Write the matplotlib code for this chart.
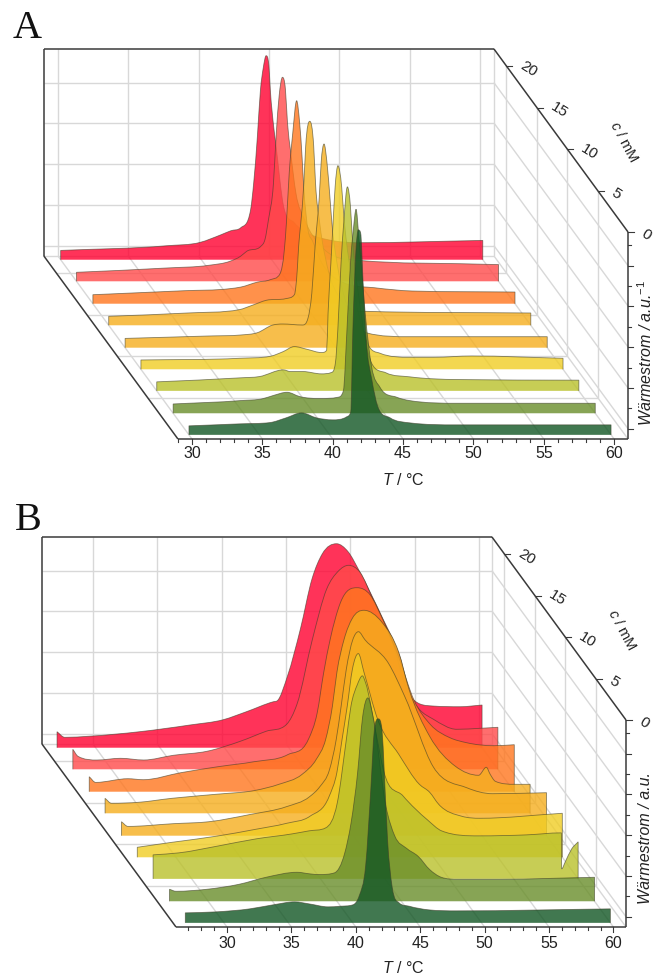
import matplotlib

matplotlib.use("Agg", force=True)

import matplotlib.pyplot as plt
import numpy as np
from matplotlib.patches import PathPatch
from matplotlib.path import Path

plt.rcParams["font.family"] = ["Liberation Sans", "DejaVu Sans"]
plt.rcParams["mathtext.fontset"] = "custom"
plt.rcParams["mathtext.rm"] = "Liberation Sans"
plt.rcParams["mathtext.it"] = "Liberation Sans:italic"

# concentration of each trace, front to back
conc = [0.5, 3.1, 5.8, 8.4, 11.0, 13.7, 16.3, 19.0, 21.6]
colors = ["#125624", "#698E2A", "#BAC12A", "#F0CD24", "#F5AE1E", "#F5AE1E", "#FF761E", "#FF4A4A", "#FF0030"]

# panel A, front to back
a_dark_t = [30, 33.6, 35.76, 36.9, 38, 39.07, 40.2, 41.2, 41.5, 41.65, 41.87, 42.03, 42.2, 42.4, 42.6, 43, 43.43, 44.3, 45.7, 49, 60]
a_dark_h = [9, 11, 12.3, 17, 22, 17, 15, 18, 23, 105, 185, 205, 202, 145, 95, 55, 28, 17, 12, 10, 10]
a_moss_t = [30, 34.8, 36.4, 37.1, 38.1, 39, 40.4, 41.7, 42.1, 42.35, 42.6, 42.8, 43, 43.2, 43.4, 43.65, 44.1, 44.7, 45.9, 46.8, 50.3, 60]
a_moss_h = [9.3, 12.7, 14.7, 17.7, 21, 16.7, 14.7, 16, 22.7, 82.7, 149.7, 182.7, 204, 176, 142, 100, 47, 26, 16, 12.7, 10, 10]
a_olive_t = [30, 35.9, 37.3, 39, 39.5, 40.4, 41.7, 42.4, 42.7, 42.87, 43.1, 43.3, 43.55, 43.77, 43.9, 44.4, 45.26, 46.3, 48, 51.4, 60]
a_olive_h = [9, 13, 14.3, 21, 19.3, 19.3, 17, 18.3, 28, 61, 128, 170, 204, 184, 154, 90, 28, 18, 14, 11.3, 10.7]
a_yellow_t = [30, 37, 39.2, 40.1, 40.9, 41.8, 42.84, 43.2, 43.3, 43.5, 43.65, 43.8, 44, 44.27, 44.43, 44.57, 45, 46.1, 47, 49.1, 50.8, 53.5, 60]
a_yellow_h = [9.3, 11, 13, 17.6, 22.7, 20, 16.7, 19, 56, 106, 145, 182, 203.6, 182, 152, 132, 90, 26, 16, 12, 12, 13.3, 11]
a_gold2_t = [30, 35.9, 38.2, 39.4, 40.5, 41.2, 42.6, 43, 43.27, 43.5, 43.6, 43.8, 43.93, 44.14, 44.35, 44.57, 44.76, 45, 45.6, 46.2, 47.2, 50.2, 60]
a_gold2_h = [9.3, 11.7, 12.7, 15, 22.7, 23.7, 22.7, 29.7, 54.7, 101, 118, 151, 184.7, 203.7, 184.7, 148, 114.7, 90, 50, 30, 14.7, 11, 11]
a_gold_t = [30, 35.6, 39.3, 40.2, 41.2, 42.6, 43.2, 43.4, 43.5, 43.65, 43.87, 44, 44.29, 44.57, 44.7, 45, 45.7, 46.3, 48.2, 60]
a_gold_h = [9, 12.3, 15.7, 20, 25, 26.7, 30.7, 55, 79, 102, 142, 179, 204, 179, 142, 102, 50, 30, 14, 12.3]
a_orange_t = [30, 36.5, 39.7, 40.5, 41.7, 42.6, 43.3, 43.6, 43.75, 43.95, 44.2, 44.48, 44.7, 44.87, 44.97, 45.3, 45.6, 46.3, 47, 48, 50, 52.7, 60]
a_orange_h = [9, 13, 15, 16.6, 21.6, 24, 30, 53, 80, 130, 170, 203, 180, 146, 120, 73, 63, 40, 28, 20, 16, 12.7, 11.7]
a_salmon_t = [30, 36.4, 39.4, 40.9, 41.66, 42.1, 43.1, 43.4, 43.65, 44, 44.2, 44.4, 44.64, 44.85, 45, 45.2, 45.6, 46.2, 47.4, 49.2, 60]
a_salmon_h = [9, 13.3, 16, 20, 25, 30, 35, 42, 62, 98, 148, 185, 204, 192, 158, 132, 88, 62, 35, 22, 16.7]
a_red_t = [30, 37.55, 39.9, 41.4, 42.1, 42.8, 43.5, 43.72, 43.98, 44.2, 44.4, 44.6, 44.8, 44.9, 45.14, 45.28, 45.85, 46.6, 47.8, 49, 51.2, 60]
a_red_h = [9.3, 14, 17.3, 25, 29, 32, 50, 77, 123, 170, 192, 204, 194, 170, 133, 117, 53, 37, 25, 20, 17, 19.3]

# panel B, front to back
b_dark_t = [27, 29.4, 32, 33.8, 35.5, 36.6, 38.1, 39, 40, 40.5, 41, 41.4, 41.67, 41.98, 42.27, 42.45, 42.7, 43.05, 43.6, 44.4, 45.9, 48.1, 60]
b_dark_h = [10, 11, 14, 18, 21, 19, 16, 16.6, 18, 27, 57, 133, 192, 204, 193, 150, 83, 36.6, 20, 16.6, 13, 12, 14]
b_moss_t = [27, 27.5, 29.9, 32.4, 34.5, 36.9, 37.9, 38.6, 39.8, 40.6, 41.1, 41.6, 42, 42.4, 42.8, 43.8, 44.5, 45.4, 46.3, 47.2, 48.1, 49.4, 52.6, 60]
b_moss_h = [12, 10, 12, 17, 24, 29, 27.4, 26.7, 28.4, 48, 78.7, 128, 185, 203.4, 185, 95, 65, 53, 45, 31.7, 24, 22, 22, 24]
b_olive_t = [27, 29, 32.1, 35, 37.8, 39.1, 40.4, 41.3, 42, 42.36, 42.85, 43.25, 43.5, 44.3, 44.9, 46.4, 48.3, 49.4, 52.3, 56, 58.7, 58.72, 59, 59.5, 60]
b_olive_h = [24, 26, 33, 40, 45, 48, 51, 76, 139, 172.6, 194, 203, 196, 146, 108, 83, 59, 48, 43, 44, 46, 10, 17, 30, 37]
b_yellow_t = [27, 29.7, 33.1, 36.2, 38.6, 40.4, 41.9, 42.5, 42.9, 43.3, 43.7, 44.16, 44.6, 45.66, 47.3, 48.9, 49.7, 50.4, 52.2, 53.6, 60]
b_yellow_h = [10, 15, 21, 28, 34, 41, 61, 85, 118, 151, 188, 203.7, 185, 138, 103, 73, 65, 53, 41, 39, 44]
b_gold2_t = [27, 27.5, 31, 33.8, 36.9, 39.8, 41.6, 42.4, 43.15, 43.67, 44.05, 44.45, 44.96, 45.4, 45.9, 47.7, 49, 51.2, 53.8, 55.8, 60]
b_gold2_h = [14, 9.3, 12, 14, 21, 29, 39, 49, 66, 96, 129, 166, 196, 204, 196, 173, 139, 69, 48, 42, 43]
b_gold_t = [27, 27.5, 29.6, 32.2, 35.6, 38.7, 40.5, 42.3, 43.4, 44.13, 44.65, 45, 45.56, 46.2, 47.1, 48.5, 49.8, 50.6, 52.2, 54.2, 56, 56.6, 56.9, 57.3, 58.8, 60]
b_gold_h = [15, 10, 11, 15, 19, 23, 29, 39, 54, 74, 107, 141, 174, 195, 203, 191, 161, 124, 77, 47, 38, 46, 39, 32, 29, 29]
b_orange_t = [27, 27.5, 30, 31.2, 34.1, 37, 39.8, 42.4, 44, 44.7, 45.2, 45.7, 46.5, 47.8, 48.8, 49.8, 51.1, 52.2, 53.5, 55, 56.3, 58.4, 60]
b_orange_h = [15, 9.3, 13, 12, 19, 25, 30, 37, 52, 79, 119, 152, 189, 204, 197, 172, 132, 92, 67, 54, 49, 46, 47]
b_salmon_t = [27, 27.4, 28.9, 30.7, 32.5, 34.8, 37.4, 40, 42, 43.6, 44.4, 45.6, 46.7, 47.6, 48.4, 49.3, 50.3, 51.9, 52.9, 53.9, 55, 56.8, 58.6, 60]
b_salmon_h = [20, 13, 9.3, 11, 9.3, 14, 18, 28, 38, 45, 65, 130, 180, 198, 204, 197, 170, 123, 80, 60, 50, 40, 41, 42]
b_red_t = [27, 27.6, 29.5, 33.4, 37.3, 39.9, 41.7, 43.8, 44.1, 44.9, 45.9, 46.8, 47.6, 48.7, 49.6, 50.5, 52.3, 53.6, 54.6, 56.2, 58.3, 60]
b_red_h = [16, 10.4, 11.5, 16, 22.7, 28, 36, 46, 47, 72, 119, 169, 194, 204, 196, 176, 129, 92, 49, 41.7, 41, 42.7]

a_traces = [(a_dark_t, a_dark_h), (a_moss_t, a_moss_h), (a_olive_t, a_olive_h),
            (a_yellow_t, a_yellow_h), (a_gold2_t, a_gold2_h), (a_gold_t, a_gold_h),
            (a_orange_t, a_orange_h), (a_salmon_t, a_salmon_h), (a_red_t, a_red_h)]
b_traces = [(b_dark_t, b_dark_h), (b_moss_t, b_moss_h), (b_olive_t, b_olive_h),
            (b_yellow_t, b_yellow_h), (b_gold2_t, b_gold2_h), (b_gold_t, b_gold_h),
            (b_orange_t, b_orange_h), (b_salmon_t, b_salmon_h), (b_red_t, b_red_h)]

t_major = [30, 35, 40, 45, 50, 55, 60]
c_major = [5, 10, 15, 20]
c_label_ticks = [0, 5, 10, 15, 20]
h_major = [10.3, 51, 92, 133, 173.3]
h_minor = [30.6, 71.5, 112.5, 153, 193.7]

GRID = "#d8d8d8"
FRAME = "#3a3a3a"
C_MAX = 22.06
H_TOP = 207
DX_C = 6.08
DY_C = 8.3


def make_proj(x30, px_per_t, floor_y):
    def proj(t, c, h):
        x = x30 + (np.asarray(t, float) - 30) * px_per_t - np.asarray(c, float) * DX_C
        y = floor_y - np.asarray(c, float) * DY_C - np.asarray(h, float)
        return x, y
    return proj


def curve_verts(t, h):
    """Bezier control points (limited tangents) running through the read values."""
    t = np.asarray(t, float)
    h = np.asarray(h, float)
    dt = np.diff(t)
    sec = np.diff(h) / dt
    m = np.zeros(len(t))
    m[0], m[-1] = sec[0], sec[-1]
    for i in range(1, len(t) - 1):
        if sec[i - 1] * sec[i] > 0:
            avg = (dt[i] * sec[i - 1] + dt[i - 1] * sec[i]) / (dt[i - 1] + dt[i])
            limit = 3 * min(abs(sec[i - 1]), abs(sec[i]))
            m[i] = np.sign(avg) * min(abs(avg), limit)
    tv, hv = [t[0]], [h[0]]
    for i in range(len(dt)):
        tv += [t[i] + dt[i] / 3, t[i + 1] - dt[i] / 3, t[i + 1]]
        hv += [h[i] + m[i] * dt[i] / 3, h[i + 1] - m[i + 1] * dt[i] / 3, h[i + 1]]
    return np.array(tv), np.array(hv)


def draw_panel(ax, traces, x30, px_per_t, floor_y, t_min, t_max, letter, letter_xy, ylabel, ylabel_x, ylabel_y, tick_y, xlabel_y):
    proj = make_proj(x30, px_per_t, floor_y)

    def seg(p0, p1, color=GRID, lw=1.0, z=1):
        x0, y0 = proj(*p0)
        x1, y1 = proj(*p1)
        ax.plot([x0, x1], [y0, y1], color=color, lw=lw, zorder=z, solid_capstyle="butt")

    # grid on the walls and floor
    for t in t_major:
        seg((t, C_MAX, H_TOP), (t, C_MAX, 0))
        seg((t, C_MAX, 0), (t, 0, 0))
    for h in h_major:
        seg((t_min, C_MAX, h), (t_max, C_MAX, h))
        seg((t_max, C_MAX, h), (t_max, 0, h))
    seg((t_max, C_MAX, H_TOP), (t_max, C_MAX, 0))
    seg((t_max, C_MAX, 0), (t_max, 0, 0))
    seg((t_min, C_MAX, 0), (t_max, C_MAX, 0))
    for c in c_major:
        seg((t_min, c, 0), (t_max, c, 0))
        seg((t_max, c, 0), (t_max, c, H_TOP))

    # traces back to front
    for i in range(len(traces) - 1, -1, -1):
        t, h = traces[i]
        tv, hv = curve_verts(t, h)
        x, y = proj(tv, conc[i], hv)
        x0, y0 = proj(t[0], conc[i], 0)
        x1, y1 = proj(t[-1], conc[i], 0)
        top = list(zip(x, y))
        codes = [Path.MOVETO] + [Path.CURVE4] * (len(top) - 1)
        fill = Path(top + [(x1, y1), (x0, y0), (x0, y0)], codes + [Path.LINETO, Path.LINETO, Path.CLOSEPOLY])
        ax.add_patch(PathPatch(fill, facecolor=colors[i], alpha=0.8, edgecolor="none", zorder=3 + (8 - i)))
        line = Path([(x0, y0)] + top + [(x1, y1)], [Path.MOVETO, Path.LINETO] + codes[1:] + [Path.LINETO])
        ax.add_patch(PathPatch(line, facecolor="none", edgecolor="#3c3c28", alpha=0.6, lw=0.6, zorder=3 + (8 - i)))

    # frame
    seg((t_min, C_MAX, H_TOP), (t_max, C_MAX, H_TOP), FRAME, 1.1, 20)
    seg((t_min, C_MAX, H_TOP), (t_min, C_MAX, 0), FRAME, 1.1, 20)
    seg((t_min, C_MAX, 0), (t_min, 0, 0), FRAME, 1.1, 20)
    seg((t_max, C_MAX, H_TOP), (t_max, 0, H_TOP), FRAME, 1.1, 20)
    seg((t_max, 0, H_TOP), (t_max, 0, 0), FRAME, 1.1, 20)
    seg((t_min, 0, 0), (t_max, 0, 0), FRAME, 1.1, 20)

    # ticks on temperature axis
    for t in np.arange(int(np.ceil(t_min)), int(t_max) + 1):
        x, y = proj(t, 0, 0)
        ax.plot([x, x], [y, y + (4.5 if t % 5 == 0 else 3)], color=FRAME, lw=0.8, zorder=20)
    for t in t_major:
        x, y = proj(t, 0, 0)
        ax.text(x, tick_y, str(t), ha="center", va="center", fontsize=11.5, color="#222222")
    ax.text(403, xlabel_y, r"$\mathit{T}$ / °C", ha="center", va="center", fontsize=11.5, color="#222222")

    # ticks on concentration axis
    for c in c_label_ticks:
        x, y = proj(t_max, c, H_TOP)
        ax.plot([x, x + 6], [y, y], color=FRAME, lw=0.8, zorder=20)
        off = 22 if c >= 10 else 18
        ax.text(x + off, y + 3, str(c), ha="center", va="center", fontsize=11, rotation=-32, color="#222222")
    x, y = proj(t_max, 12, H_TOP)
    ax.text(x + 69, y + 9, r"$\mathit{c}$ / mM", ha="center", va="center", fontsize=10.5, rotation=-62, color="#222222")

    # ticks on heat flow axis
    for h in h_major:
        x, y = proj(t_max, 0, h)
        ax.plot([x, x + 5], [y, y], color=FRAME, lw=0.8, zorder=20)
    for h in h_minor:
        x, y = proj(t_max, 0, h)
        ax.plot([x, x + 3], [y, y], color=FRAME, lw=0.8, zorder=20)
    ax.text(ylabel_x, ylabel_y, ylabel, ha="center", va="center", rotation=90, fontsize=11.5, style="italic", color="#222222")

    ax.text(letter_xy[0], letter_xy[1], letter, family="Liberation Serif", fontsize=29, va="baseline", color="#111111")


fig = plt.figure(figsize=(6.54, 9.76), dpi=100)
ax = fig.add_axes([0, 0, 1, 1])
ax.set_xlim(0, 654)
ax.set_ylim(976, 0)
ax.axis("off")

draw_panel(ax, a_traces, 192, 14.07, 439, 29.0, 60.99, "A", (13, 38), "Wärmestrom / a.u.$^{-1}$", 646, 353, 454, 480)
draw_panel(ax, b_traces, 227, 12.88, 927, 26.04, 60.98, "B", (15, 530), "Wärmestrom / a.u.", 646, 838, 943, 968)

fig.savefig("out.png", dpi=100)
